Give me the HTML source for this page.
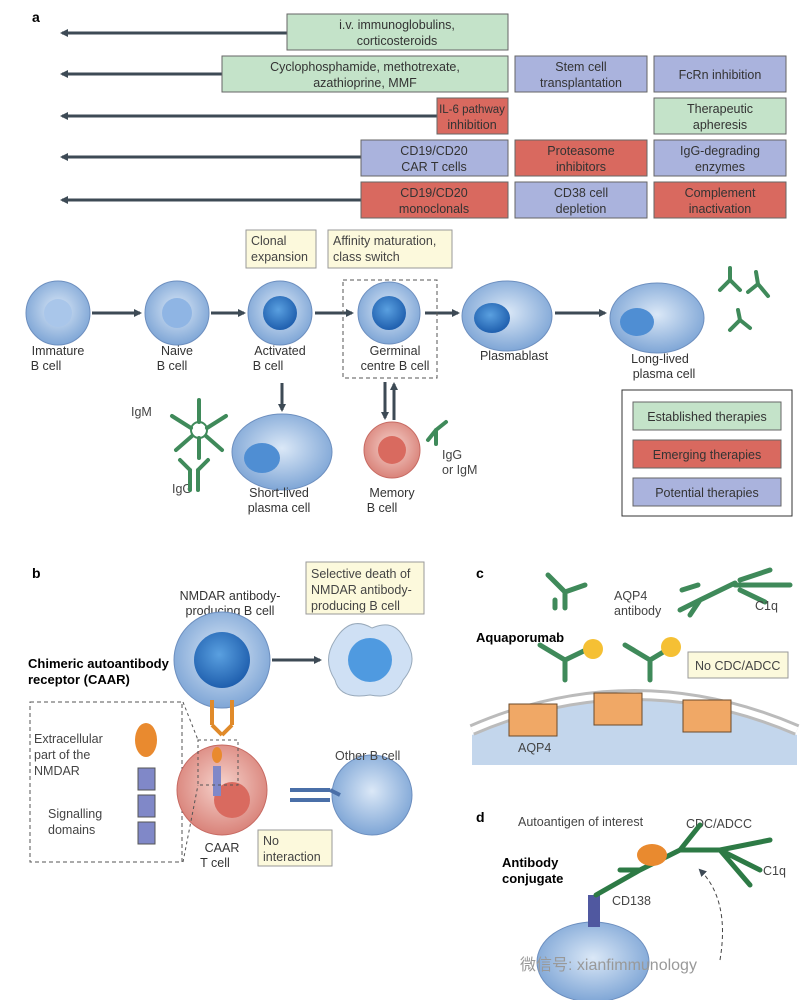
<!DOCTYPE html>
<html><head><meta charset="utf-8"><style>
body{margin:0;background:#fff}
svg{display:block;font-family:"Liberation Sans",sans-serif}
.t{font-size:12.5px;fill:#333;text-anchor:middle}
.l{font-size:12.5px;fill:#444}
</style></head><body>
<svg width="812" height="1000" viewBox="0 0 812 1000">
<defs>
<marker id="ah" markerWidth="8" markerHeight="8" refX="6" refY="4" orient="auto" markerUnits="userSpaceOnUse"><path d="M0,0 L8,4 L0,8 Z" fill="#3d4a55"/></marker>
<radialGradient id="bc" cx="50%" cy="45%" r="55%"><stop offset="0" stop-color="#dbe8f7"/><stop offset="1" stop-color="#7fa6d6"/></radialGradient>
<radialGradient id="nuc" cx="45%" cy="40%" r="60%"><stop offset="0" stop-color="#5aa0e0"/><stop offset="1" stop-color="#1f5fae"/></radialGradient>
<radialGradient id="pk" cx="50%" cy="45%" r="55%"><stop offset="0" stop-color="#f6d3cc"/><stop offset="1" stop-color="#d9837a"/></radialGradient>
</defs>
<text x="32" y="22" font-weight="bold" font-size="14">a</text>
<g stroke="#3d4a55" stroke-width="3" marker-end="url(#ah)">
<line x1="287" y1="33" x2="62" y2="33"/><line x1="222" y1="74" x2="62" y2="74"/><line x1="437" y1="116" x2="62" y2="116"/><line x1="361" y1="157" x2="62" y2="157"/><line x1="361" y1="200" x2="62" y2="200"/>
</g>
<g stroke="#666" stroke-width="1">
<rect x="287" y="14" width="221" height="36" fill="#c4e3c9"/>
<rect x="222" y="56" width="286" height="36" fill="#c4e3c9"/>
<rect x="515" y="56" width="132" height="36" fill="#aab3dd"/>
<rect x="654" y="56" width="132" height="36" fill="#aab3dd"/>
<rect x="437" y="98" width="71" height="36" fill="#d9695f"/>
<rect x="654" y="98" width="132" height="36" fill="#c4e3c9"/>
<rect x="361" y="140" width="147" height="36" fill="#aab3dd"/>
<rect x="515" y="140" width="132" height="36" fill="#d9695f"/>
<rect x="654" y="140" width="132" height="36" fill="#aab3dd"/>
<rect x="361" y="182" width="147" height="36" fill="#d9695f"/>
<rect x="515" y="182" width="132" height="36" fill="#aab3dd"/>
<rect x="654" y="182" width="132" height="36" fill="#d9695f"/>
</g>
<g class="t">
<text x="397" y="29">i.v. immunoglobulins,</text><text x="397" y="45">corticosteroids</text>
<text x="365" y="71">Cyclophosphamide, methotrexate,</text><text x="365" y="87">azathioprine, MMF</text>
<text x="581" y="71">Stem cell</text><text x="581" y="87">transplantation</text>
<text x="720" y="79">FcRn inhibition</text>
<text x="472" y="113" style="font-size:11.5px">IL-6 pathway</text><text x="472" y="129">inhibition</text>
<text x="720" y="113">Therapeutic</text><text x="720" y="129">apheresis</text>
<text x="434" y="155">CD19/CD20</text><text x="434" y="171">CAR T cells</text>
<text x="581" y="155">Proteasome</text><text x="581" y="171">inhibitors</text>
<text x="720" y="155">IgG-degrading</text><text x="720" y="171">enzymes</text>
<text x="434" y="197">CD19/CD20</text><text x="434" y="213">monoclonals</text>
<text x="581" y="197">CD38 cell</text><text x="581" y="213">depletion</text>
<text x="720" y="197">Complement</text><text x="720" y="213">inactivation</text>
</g>
<g stroke="#3d4a55" stroke-width="3" marker-end="url(#ah)">
<line x1="92" y1="313" x2="140" y2="313"/><line x1="211" y1="313" x2="244" y2="313"/><line x1="315" y1="313" x2="352" y2="313"/><line x1="425" y1="313" x2="458" y2="313"/><line x1="555" y1="313" x2="605" y2="313"/>
<line x1="282" y1="383" x2="282" y2="410"/><line x1="385" y1="382" x2="385" y2="418"/><line x1="394" y1="420" x2="394" y2="384"/>
</g>
<rect x="246" y="230" width="70" height="38" fill="#fcf9dc" stroke="#999"/>
<text class="l" x="251" y="245">Clonal</text><text class="l" x="251" y="261">expansion</text>
<rect x="328" y="230" width="124" height="38" fill="#fcf9dc" stroke="#999"/>
<text class="l" x="333" y="245">Affinity maturation,</text><text class="l" x="333" y="261">class switch</text>
<rect x="343" y="280" width="94" height="98" fill="none" stroke="#555" stroke-dasharray="4,3"/>
<circle cx="58" cy="313" r="32" fill="url(#bc)" stroke="#6d8fbf"/><circle cx="58" cy="313" r="14" fill="#a9c6ea"/>
<circle cx="177" cy="313" r="32" fill="url(#bc)" stroke="#6d8fbf"/><circle cx="177" cy="313" r="15" fill="#8fb5e4"/>
<circle cx="280" cy="313" r="32" fill="url(#bc)" stroke="#6d8fbf"/><circle cx="280" cy="313" r="17" fill="url(#nuc)"/>
<circle cx="389" cy="313" r="31" fill="url(#bc)" stroke="#6d8fbf"/><circle cx="389" cy="313" r="17" fill="url(#nuc)"/>
<ellipse cx="507" cy="316" rx="45" ry="35" fill="url(#bc)" stroke="#6d8fbf"/><ellipse cx="492" cy="318" rx="18" ry="15" fill="url(#nuc)"/>
<ellipse cx="657" cy="318" rx="47" ry="35" fill="url(#bc)" stroke="#6d8fbf"/><ellipse cx="637" cy="322" rx="17" ry="14" fill="#4f8ed3"/>
<g class="t"><text x="58" y="355">Immature</text><text x="46" y="370">B cell</text>
<text x="177" y="355">Naive</text><text x="172" y="370">B cell</text>
<text x="280" y="355">Activated</text><text x="268" y="370">B cell</text>
<text x="395" y="355">Germinal</text><text x="395" y="370">centre B cell</text>
<text x="514" y="360">Plasmablast</text>
<text x="660" y="363">Long-lived</text><text x="664" y="378">plasma cell</text>
</g>
<ellipse cx="282" cy="452" rx="50" ry="38" fill="url(#bc)" stroke="#6d8fbf"/><ellipse cx="262" cy="458" rx="18" ry="15" fill="#4f8ed3"/>
<circle cx="392" cy="450" r="28" fill="url(#pk)" stroke="#c76a62"/><circle cx="392" cy="450" r="14" fill="#d96a5f"/>
<g class="t"><text x="279" y="497">Short-lived</text><text x="279" y="512">plasma cell</text><text x="392" y="497">Memory</text><text x="382" y="512">B cell</text></g>
<text class="l" x="131" y="416">IgM</text><text class="l" x="172" y="493">IgG</text><text class="l" x="442" y="459">IgG</text><text class="l" x="442" y="474">or IgM</text>
<g stroke="#3f8a5a" stroke-width="4" fill="none" stroke-linecap="round">
<circle cx="199" cy="430" r="8" stroke-width="2"/>
<path d="M199 422 L199 400 M191 428 L172 416 M207 428 L226 416 M192 436 L176 450 M206 436 L222 450 M199 438 L199 458"/>
<path d="M190 470 L190 490 M198 470 L198 490 M190 470 L180 460 M198 470 L208 460"/>
<path d="M436 430 L428 440 M436 430 L446 422 M436 430 L436 444"/>
<path d="M720 290 L730 280 M730 280 L740 290 M730 280 L730 268"/><path d="M748 292 L758 284 M758 284 L768 296 M758 284 L756 272"/><path d="M730 330 L740 320 M740 320 L750 328 M740 320 L738 310"/>
</g>
<rect x="622" y="390" width="170" height="126" fill="#fff" stroke="#333"/>
<rect x="633" y="402" width="148" height="28" fill="#c4e3c9" stroke="#666"/><text class="t" x="707" y="421">Established therapies</text>
<rect x="633" y="440" width="148" height="28" fill="#d9695f" stroke="#666"/><text class="t" x="707" y="459">Emerging therapies</text>
<rect x="633" y="478" width="148" height="28" fill="#aab3dd" stroke="#666"/><text class="t" x="707" y="497">Potential therapies</text>
<text x="32" y="578" font-weight="bold" font-size="14">b</text>
<text class="t" x="230" y="600">NMDAR antibody-</text><text class="t" x="230" y="615">producing B cell</text>
<circle cx="222" cy="660" r="48" fill="url(#bc)" stroke="#6d8fbf"/><circle cx="222" cy="660" r="28" fill="url(#nuc)"/>
<line x1="272" y1="660" x2="320" y2="660" stroke="#3d4a55" stroke-width="3" marker-end="url(#ah)"/>
<path d="M335 640 Q350 615 372 628 Q395 618 405 640 Q420 660 403 680 Q395 700 370 695 Q340 700 335 680 Q322 660 335 640Z" fill="#cfe0f4" stroke="#9ab"/><circle cx="370" cy="660" r="22" fill="#4f9ae0"/>
<rect x="306" y="562" width="118" height="52" fill="#fcf9dc" stroke="#999"/>
<text class="l" x="311" y="578">Selective death of</text><text class="l" x="311" y="594">NMDAR antibody-</text><text class="l" x="311" y="610">producing B cell</text>
<text x="28" y="668" font-weight="bold" font-size="13">Chimeric autoantibody</text><text x="28" y="684" font-weight="bold" font-size="13">receptor (CAAR)</text>
<rect x="30" y="702" width="152" height="160" fill="none" stroke="#555" stroke-dasharray="4,3"/>
<text class="l" x="34" y="743">Extracellular</text><text class="l" x="34" y="759">part of the</text><text class="l" x="34" y="775">NMDAR</text>
<text class="l" x="48" y="818">Signalling</text><text class="l" x="48" y="834">domains</text>
<ellipse cx="146" cy="740" rx="11" ry="17" fill="#e98a2f"/>
<rect x="138" y="768" width="17" height="22" fill="#8088c8" stroke="#555"/><rect x="138" y="795" width="17" height="22" fill="#8088c8" stroke="#555"/><rect x="138" y="822" width="17" height="22" fill="#8088c8" stroke="#555"/>
<circle cx="222" cy="790" r="45" fill="url(#pk)" stroke="#c76a62"/><circle cx="232" cy="800" r="18" fill="#d96a5f"/>
<path d="M212 700 L212 725 M232 700 L232 725 M212 725 L222 735 M232 725 L222 735" stroke="#e08a2a" stroke-width="4" fill="none"/>
<ellipse cx="217" cy="755" rx="5" ry="8" fill="#e98a2f"/><rect x="213" y="766" width="8" height="30" fill="#8088c8"/>
<rect x="198" y="740" width="40" height="45" fill="none" stroke="#555" stroke-dasharray="3,3"/>
<line x1="183" y1="702" x2="198" y2="740" stroke="#555" stroke-dasharray="3,3"/><line x1="183" y1="862" x2="198" y2="785" stroke="#555" stroke-dasharray="3,3"/>
<text class="t" x="222" y="852">CAAR</text><text class="t" x="215" y="867">T cell</text>
<circle cx="372" cy="795" r="40" fill="url(#bc)" stroke="#6d8fbf"/>
<path d="M290 790 L330 790 M290 800 L330 800 M330 790 L340 795" stroke="#4a6fa8" stroke-width="4" fill="none"/>
<text class="l" x="335" y="760">Other B cell</text>
<rect x="258" y="830" width="74" height="36" fill="#fcf9dc" stroke="#999"/>
<text class="l" x="263" y="845">No</text><text class="l" x="263" y="861">interaction</text>
<rect x="472" y="560" width="325" height="205" fill="#fff"/>
<text x="476" y="578" font-weight="bold" font-size="14">c</text>
<path d="M472 735 Q634 665 797 735 L797 765 L472 765Z" fill="#c3d6ec"/>
<path d="M472 730 Q634 660 797 730" stroke="#bbb" stroke-width="12" fill="none"/>
<path d="M472 730 Q634 660 797 730" stroke="#fff" stroke-width="6" fill="none"/>
<g fill="#f0a866" stroke="#6b4a2a"><rect x="509" y="704" width="48" height="32"/><rect x="594" y="693" width="48" height="32"/><rect x="683" y="700" width="48" height="32"/></g>
<text class="l" x="518" y="752">AQP4</text>
<g stroke="#3f8a5a" stroke-width="5" fill="none" stroke-linecap="round">
<path d="M548 575 L565 592 L585 585 M565 592 L565 608 M555 600 L555 608"/>
<path d="M680 610 L700 600 L735 583 M700 600 L690 615 M682 590 L698 585"/>
<path d="M540 645 L565 660 L590 648 M565 660 L565 680"/><path d="M625 645 L650 660 L670 648 M650 660 L650 680"/>
<path d="M735 585 L790 585 M740 580 L770 570 M740 590 L765 602"/>
</g>
<circle cx="593" cy="649" r="10" fill="#f5c034"/><circle cx="671" cy="647" r="10" fill="#f5c034"/>
<text class="l" x="614" y="600">AQP4</text><text class="l" x="614" y="605" dy="10">antibody</text>
<text class="l" x="755" y="610">C1q</text>
<text x="476" y="642" font-weight="bold" font-size="13">Aquaporumab</text>
<rect x="688" y="652" width="100" height="26" fill="#fcf9dc" stroke="#999"/><text class="l" x="695" y="670">No CDC/ADCC</text>
<text x="476" y="822" font-weight="bold" font-size="14">d</text>
<text class="l" x="518" y="826">Autoantigen of interest</text>
<text class="l" x="686" y="828">CDC/ADCC</text><text class="l" x="763" y="875">C1q</text>
<text x="502" y="867" font-weight="bold" font-size="13">Antibody</text><text x="502" y="883" font-weight="bold" font-size="13">conjugate</text>
<text class="l" x="612" y="905">CD138</text>
<ellipse cx="593" cy="962" rx="56" ry="40" fill="url(#bc)" stroke="#6d8fbf"/>
<rect x="588" y="895" width="12" height="32" fill="#5058a0"/>
<g stroke="#2d7a45" stroke-width="5" fill="none" stroke-linecap="round"><path d="M596 895 L640 870 L680 850 L700 825 M640 870 L620 870 M680 850 L720 850"/><path d="M720 850 L770 840 M720 850 L760 870 M720 850 L750 885"/></g>
<ellipse cx="652" cy="855" rx="15" ry="11" fill="#e98a2f"/>
<path d="M720 960 Q730 900 700 870" stroke="#444" stroke-dasharray="4,3" fill="none" marker-end="url(#ah)"/>
<text x="520" y="970" font-size="16" fill="#999">微信号: xianfimmunology</text>
</svg>
</body></html>
